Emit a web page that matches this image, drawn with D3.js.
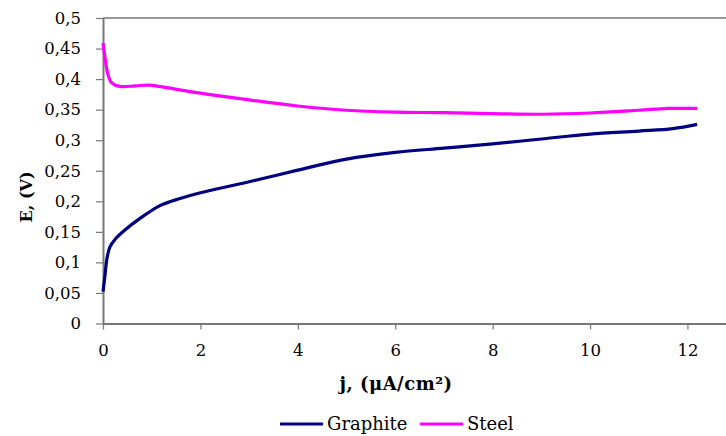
<!DOCTYPE html>
<html><head><meta charset="utf-8">
<script src="https://cdn.jsdelivr.net/npm/d3@7"></script>
<style>body{margin:0;background:#fff}svg{display:block}text{font-family:"DejaVu Serif",serif}</style>
</head><body>
<svg id="c" width="726" height="436"></svg>
<script>
const graphiteJ = [0, 0.04, 0.08, 0.14, 0.25, 0.45, 0.76, 1.17, 1.6, 2.0, 3.0, 4.0, 5.0, 6.0, 7.0, 8.0, 9.0, 10.0, 11.0, 11.7, 12.2];
const graphiteE = [0.052, 0.078, 0.106, 0.125, 0.138, 0.153, 0.172, 0.193, 0.205, 0.214, 0.232, 0.251, 0.269, 0.280, 0.287, 0.294, 0.302, 0.310, 0.315, 0.319, 0.326];
const steelJ = [0, 0.04, 0.1, 0.18, 0.35, 0.66, 0.96, 1.3, 2.0, 3.0, 4.0, 5.0, 6.0, 7.0, 8.0, 9.0, 10.0, 11.0, 11.6, 12.2];
const steelE = [0.459, 0.436, 0.408, 0.394, 0.388, 0.389, 0.390, 0.386, 0.377, 0.366, 0.356, 0.349, 0.346, 0.345, 0.3435, 0.3425, 0.3445, 0.349, 0.352, 0.352];
const xTicks = [0, 2, 4, 6, 8, 10, 12];
const yTicks = [0, 0.05, 0.1, 0.15, 0.2, 0.25, 0.3, 0.35, 0.4, 0.45, 0.5];
const seriesNames = ["Graphite", "Steel"];
const seriesColors = ["#000080", "#FF00FF"];

const svg = d3.select("#c");
const x = d3.scaleLinear().domain([0, 12.8]).range([103, 726.4]);
const y = d3.scaleLinear().domain([0, 0.5]).range([323.5, 18]);
const fmt = d => String(d).replace(".", ",");

svg.append("line").attr("x1", 103).attr("x2", 726).attr("y1", y(0.5)).attr("y2", y(0.5))
  .attr("stroke", "#999").attr("stroke-width", 2);

const yAxis = svg.append("g").attr("transform", "translate(103,0)")
  .call(d3.axisLeft(y).tickValues(yTicks).tickFormat(fmt).tickSize(7).tickSizeOuter(0));
const xAxis = svg.append("g").attr("transform", "translate(0,323.5)")
  .call(d3.axisBottom(x).tickValues(xTicks).tickFormat(fmt).tickSize(6).tickSizeOuter(0));
[yAxis, xAxis].forEach(g => {
  g.select(".domain").attr("stroke", "#777").attr("stroke-width", 2);
  g.selectAll(".tick line").attr("stroke", "#777").attr("stroke-width", 1.2);
  g.selectAll("text").attr("fill", "#000").style("font-size", "16.5px").style("font-family", "DejaVu Serif, serif");
});
yAxis.selectAll("text").attr("x", -22);
xAxis.selectAll("text").attr("y", 21);

const line = d3.line().x(d => x(d[0])).y(d => y(d[1])).curve(d3.curveCatmullRom.alpha(0.5));
const series = [d3.zip(graphiteJ, graphiteE), d3.zip(steelJ, steelE)];
series.forEach((s, i) => {
  svg.append("path").datum(s).attr("d", line).attr("fill", "none")
    .attr("stroke", seriesColors[i]).attr("stroke-width", 3.2).attr("stroke-linejoin", "round");
});

svg.append("text").attr("transform", "translate(32,197) rotate(-90)").attr("text-anchor", "middle")
  .style("font-weight", "bold").style("font-size", "16px").text("E, (V)");
svg.append("text").attr("x", 396).attr("y", 390).attr("text-anchor", "middle")
  .style("font-weight", "bold").style("font-size", "18px").style("letter-spacing", "0.5px").text("j, (μA/cm²)");

const legX = [280, 420];
seriesNames.forEach((n, i) => {
  svg.append("line").attr("x1", legX[i]).attr("x2", legX[i] + 43).attr("y1", 424).attr("y2", 424)
    .attr("stroke", seriesColors[i]).attr("stroke-width", 3.2);
  svg.append("text").attr("x", legX[i] + 47).attr("y", 430).style("font-size", "18px").text(n);
});
</script>
</body></html>
